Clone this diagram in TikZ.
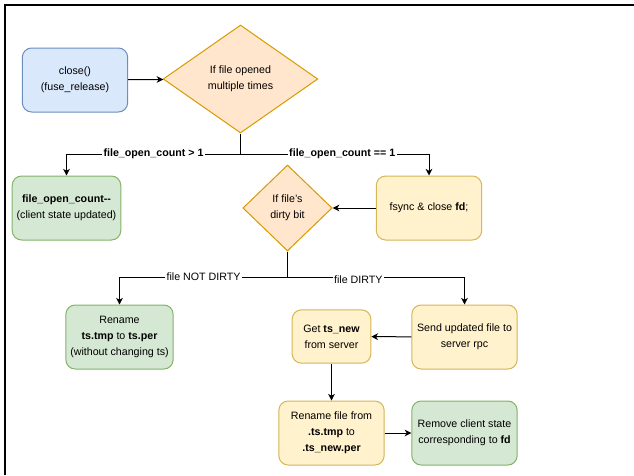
\documentclass[tikz,border=0pt]{standalone}
\usepackage{fontspec}
\setmainfont{Liberation Sans}
\usetikzlibrary{arrows.meta, shapes.geometric}

\definecolor{bluefill}{HTML}{DAE8FC}
\definecolor{bluedraw}{HTML}{6C8EBF}
\definecolor{orangefill}{HTML}{FFE6CC}
\definecolor{orangedraw}{HTML}{D79B00}
\definecolor{yellowfill}{HTML}{FFF2CC}
\definecolor{yellowdraw}{HTML}{D6B656}
\definecolor{greenfill}{HTML}{D5E8D4}
\definecolor{greendraw}{HTML}{82B366}

\begin{document}
\begin{tikzpicture}[
  x=0.75pt, y=-0.75pt,
  font=\fontsize{8}{12}\selectfont,
  box/.style={draw, rectangle, rounded corners=7pt, minimum width=79pt,
              minimum height=48pt, align=center, line width=0.75pt},
  start/.style={box, fill=bluefill, draw=bluedraw},
  done/.style={box, fill=greenfill, draw=greendraw},
  work/.style={box, fill=yellowfill, draw=yellowdraw},
  test/.style={diamond, draw=orangedraw, fill=orangefill, inner sep=0pt,
               align=center, line width=0.75pt},
  arr/.style={-{Stealth[length=5pt, width=5pt, inset=1.5pt]}, line width=0.75pt},
  lbl/.style={fill=white, inner sep=1pt}
]
  \useasboundingbox (0,0) rectangle (634,475);
  \draw[line width=1.5pt] (5,475) -- (5,5) -- (634,5);

  \node[start] (close) at (75,80)    {close()\\(fuse\_release)};
  \node[test, minimum width=116pt, minimum height=81pt] (opened) at (240.5,79)
        {If file opened\\multiple times};
  \node[done] (count) at (66.5,208)  {\textbf{file\_open\_count-{}-}\\(client state updated)};
  \node[work] (fsync) at (429,208)   {fsync \& close \textbf{fd};};
  \node[test, minimum width=67pt, minimum height=64.5pt] (dirty) at (287.5,208)
        {If file's\\dirty bit};
  \node[done] (keep) at (119.5,337)  {Rename\\\textbf{ts.tmp} to \textbf{ts.per}\\(without changing ts)};
  \node[work] (send) at (464.5,337)  {Send updated file to\\server rpc};
  \node[work, minimum width=59pt, minimum height=40pt] (get) at (331.5,336.5)
        {Get \textbf{ts\_new}\\from server};
  \node[work] (rename) at (331.5,433) {Rename file from\\\textbf{.ts.tmp} to\\\textbf{.ts\_new.per}};
  \node[done] (remove) at (464.5,433) {Remove client state\\corresponding to \textbf{fd}};

  \coordinate (split1) at (240.5,154);
  \coordinate (split2) at (287.5,277);

  \draw[arr] (close) -- (opened);
  \draw[line width=0.75pt] (opened.south) -- (split1);
  \draw[arr] (split1) -| node[lbl, pos=0.25] {\textbf{file\_open\_count > 1}} (count.north);
  \draw[arr] (split1) -| node[lbl, pos=0.27] {\textbf{file\_open\_count == 1}} (fsync.north);
  \draw[arr] (fsync) -- (dirty);
  \draw[line width=0.75pt] (dirty.south) -- (split2);
  \draw[arr] (split2) -| node[lbl, pos=0.25] {file NOT DIRTY} (keep.north);
  \draw[arr] (split2) -| node[lbl, pos=0.2, yshift=-2pt] {file DIRTY} (send.north);
  \draw[arr] (send) -- (get);
  \draw[arr] (get) -- (rename);
  \draw[arr] (rename) -- (remove);
\end{tikzpicture}
\end{document}
